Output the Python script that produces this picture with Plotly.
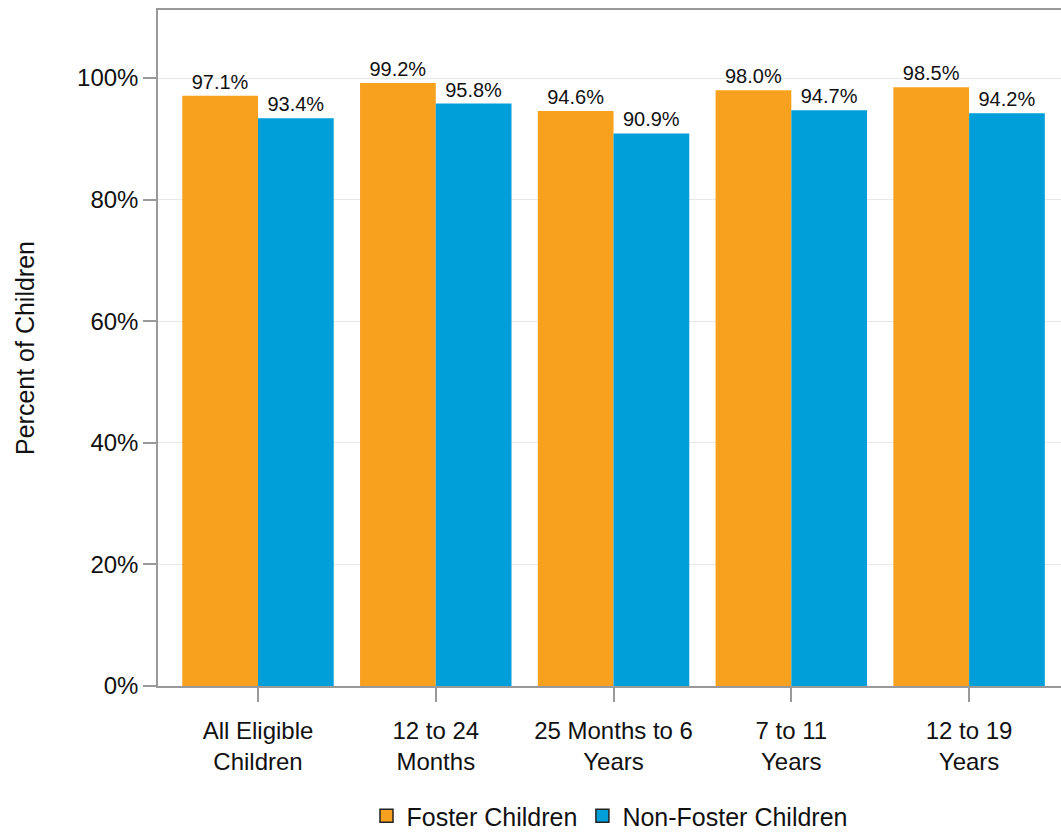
import plotly.graph_objects as go

categories = ["All Eligible<br>Children", "12 to 24<br>Months", "25 Months to 6<br>Years",
              "7 to 11<br>Years", "12 to 19<br>Years"]
foster = [97.1, 99.2, 94.6, 98.0, 98.5]
non_foster = [93.4, 95.8, 90.9, 94.7, 94.2]
y_ticks = [0, 20, 40, 60, 80, 100]
y_tick_labels = ["0%", "20%", "40%", "60%", "80%", "100%"]

ORANGE = "#F8A11F"
BLUE = "#009FDA"
FONT = "Liberation Sans, Arial, sans-serif"

fig = go.Figure()
for name, vals, color in [("Foster Children", foster, ORANGE),
                          ("Non-Foster Children", non_foster, BLUE)]:
    fig.add_trace(go.Bar(
        x=categories, y=vals, name=name, marker=dict(color=color, line=dict(width=0)),
        texttemplate="%{y:.1f}%", textposition="outside", cliponaxis=False,
        textfont=dict(size=20, color="#111111", family=FONT), showlegend=False,
    ))

# legend keys: outlined squares
for name, color in [("Foster Children", ORANGE), ("Non-Foster Children", BLUE)]:
    fig.add_trace(go.Scatter(
        x=[None], y=[None], mode="markers", name=name,
        marker=dict(symbol="square", size=13, color=color, line=dict(color="#222222", width=1.5)),
    ))

fig.update_layout(
    width=1061, height=832,
    margin=dict(l=158, r=0, t=10, b=146, autoexpand=False),
    paper_bgcolor="white", plot_bgcolor="white",
    barmode="group", bargap=0.148, bargroupgap=0,
    font=dict(family=FONT, color="#111111", size=24),
    legend=dict(orientation="h", x=0.5, xanchor="center", xref="paper",
                y=1 - 816 / 832, yanchor="middle", yref="container",
                font=dict(size=25), itemwidth=30, traceorder="normal",
                tracegroupgap=0),
)
fig.update_xaxes(
    type="category", range=[-0.5625, 4.517], automargin=False,
    showline=True, linecolor="#999999", linewidth=1.5, mirror=True,
    ticks="outside", ticklen=14, tickcolor="#999999", tickwidth=1.5,
    ticklabelstandoff=8,
    tickfont=dict(size=24), showgrid=False,
)
fig.update_yaxes(
    range=[0, 111.2], tickvals=y_ticks, ticktext=y_tick_labels, automargin=False,
    showline=True, linecolor="#999999", linewidth=1.5,
    ticks="outside", ticklen=13, tickcolor="#999999", tickwidth=1.5,
    tickfont=dict(size=24), showgrid=True, gridcolor="#E8E8E8", gridwidth=1,
    zeroline=False,
    title=dict(text="Percent of Children", font=dict(size=25), standoff=35),
)

fig.write_html("out.html")
